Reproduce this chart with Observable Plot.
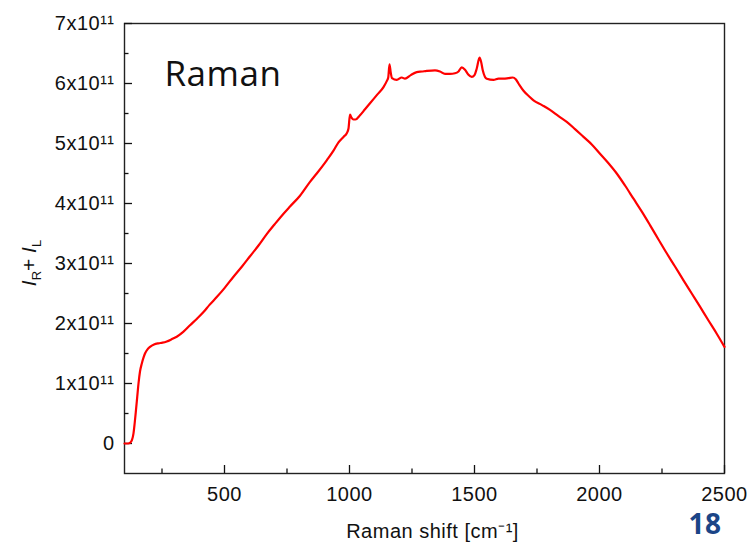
<!DOCTYPE html>
<html>
<head>
<meta charset="utf-8">
<script src="https://cdn.jsdelivr.net/npm/d3@7"></script>
<script src="https://cdn.jsdelivr.net/npm/@observablehq/plot@0.6"></script>
<style>
  html, body { margin: 0; padding: 0; background: #fff; }
  #chart svg { display: block; }
</style>
</head>
<body>
<div id="chart"></div>
<script>
// Raman shift (cm^-1)
const shift = [
  100, 115, 122, 130, 136, 141, 146, 151, 156, 162, 169, 176, 182, 192, 202, 218, 236, 252, 269, 290,
  309, 335, 362, 390, 416, 440, 469, 500, 536, 570, 602, 636, 669, 700, 736, 762, 802, 842, 869, 909,
  936, 956, 976, 989, 996, 1002, 1008, 1016, 1024, 1042, 1062, 1082, 1110, 1136, 1149, 1155, 1160, 1165, 1170, 1189,
  1209, 1222, 1245, 1269, 1290, 1309, 1342, 1362, 1382, 1402, 1422, 1436, 1449, 1462, 1475, 1489, 1500, 1509, 1520, 1527,
  1533, 1542, 1549, 1576, 1596, 1616, 1636, 1653, 1665, 1676, 1696, 1720, 1736, 1770, 1802, 1835, 1869, 1902, 1936, 1970,
  2002, 2036, 2069, 2102, 2136, 2170, 2202, 2236, 2269, 2302, 2336, 2369, 2402, 2436, 2469, 2500
];
// I_R + I_L in units of 10^11
const intensity = [
  0.00, 0.00, 0.01, 0.06, 0.17, 0.35, 0.56, 0.78, 1.00, 1.20, 1.33, 1.43, 1.50, 1.57, 1.61, 1.65, 1.67, 1.68, 1.70, 1.74,
  1.78, 1.86, 1.97, 2.08, 2.19, 2.31, 2.44, 2.59, 2.78, 2.95, 3.12, 3.30, 3.49, 3.65, 3.83, 3.95, 4.13, 4.36, 4.50, 4.72,
  4.88, 5.02, 5.11, 5.17, 5.25, 5.48, 5.43, 5.40, 5.40, 5.47, 5.57, 5.67, 5.81, 5.94, 6.04, 6.10, 6.32, 6.18, 6.09, 6.06,
  6.10, 6.08, 6.14, 6.19, 6.20, 6.21, 6.22, 6.20, 6.16, 6.16, 6.17, 6.20, 6.27, 6.23, 6.15, 6.11, 6.14, 6.25, 6.43, 6.35,
  6.22, 6.11, 6.08, 6.06, 6.08, 6.08, 6.09, 6.10, 6.07, 6.00, 5.88, 5.78, 5.72, 5.64, 5.56, 5.46, 5.36, 5.24, 5.11, 4.98,
  4.83, 4.67, 4.50, 4.30, 4.08, 3.86, 3.64, 3.40, 3.17, 2.95, 2.72, 2.50, 2.28, 2.05, 1.83, 1.61
];

const xMajorTicks = [500, 1000, 1500, 2000, 2500];
const xMinorTicks = [250, 750, 1250, 1750, 2250];
const xTickLabels = ["500", "1000", "1500", "2000", "2500"];
const yMajorTicks = [0, 1, 2, 3, 4, 5, 6, 7];
const yMinorTicks = [0.5, 1.5, 2.5, 3.5, 4.5, 5.5, 6.5];
const yTickLabels = ["0", "1x10¹¹", "2x10¹¹", "3x10¹¹", "4x10¹¹", "5x10¹¹", "6x10¹¹", "7x10¹¹"];

const titleText = "Raman";
const xTitle = "Raman shift [cm⁻¹]";
const pageNumber = "18";

const data = shift.map((x, i) => ({x, y: intensity[i]}));

const chart = Plot.plot({
  width: 750,
  height: 544,
  marginLeft: 124,
  marginRight: 26,
  marginTop: 23,
  marginBottom: 71,
  style: {fontFamily: "'Liberation Sans', Arial, sans-serif", fontSize: "20px", color: "#111", background: "#fff", letterSpacing: "0.5px"},
  x: {domain: [100, 2500], label: null},
  y: {domain: [-0.5, 7], label: null},
  marks: [
    Plot.frame({stroke: "#222", strokeWidth: 1.4}),
    Plot.axisX(xMajorTicks, {tickSize: -8, fill: "none", label: null, strokeWidth: 1.3}),
    Plot.axisX(xMinorTicks, {tickSize: -4.5, fill: "none", label: null, strokeWidth: 1.3}),
    Plot.axisX(xMajorTicks, {tickSize: 0, tickPadding: 13, label: null, fontSize: 20,
      tickFormat: (d) => xTickLabels[xMajorTicks.indexOf(d)]}),
    Plot.axisY(yMajorTicks, {tickSize: -8, fill: "none", label: null, strokeWidth: 1.3}),
    Plot.axisY(yMinorTicks, {tickSize: -4.5, fill: "none", label: null, strokeWidth: 1.3}),
    Plot.axisY(yMajorTicks, {tickSize: 0, tickPadding: 10, label: null, fontSize: 20,
      tickFormat: (d) => yTickLabels[yMajorTicks.indexOf(d)]}),
    Plot.line(data, {x: "x", y: "y", stroke: "#ff0000", strokeWidth: 2.2, curve: "monotone-x"}),
    Plot.text([titleText], {frameAnchor: "top-left", dx: 40, dy: 38, text: (d) => d, lineAnchor: "top",
      textAnchor: "start", fontSize: 35, fontFamily: "'Open Sans', sans-serif", fill: "#111"}),
    Plot.text([xTitle], {frameAnchor: "bottom", dx: 8, dy: 50, text: (d) => d, lineAnchor: "top",
      textAnchor: "middle", fontSize: 20, fill: "#111"}),
    Plot.text([pageNumber], {frameAnchor: "bottom-right", dx: -3, dy: 41, text: (d) => d, lineAnchor: "top",
      textAnchor: "end", fontSize: 28, fontWeight: "bold", fontFamily: "'Open Sans', sans-serif", fill: "#1b4587"})
  ]
});

// y-axis title with italic I and subscripts
const svg = d3.select(chart);
const yl = svg.append("text")
  .attr("transform", "translate(36,263) rotate(-90)")
  .attr("text-anchor", "middle")
  .attr("fill", "#111")
  .style("font-family", "'Liberation Sans', Arial, sans-serif")
  .style("font-size", "21px")
  .style("letter-spacing", "0px");
yl.append("tspan").attr("font-style", "italic").text("I");
yl.append("tspan").attr("font-size", "13px").attr("dy", "5").text("R");
yl.append("tspan").attr("dy", "-5").text("+ ");
yl.append("tspan").attr("font-style", "italic").text("I");
yl.append("tspan").attr("font-size", "13px").attr("dy", "5").text("L");

document.getElementById("chart").appendChild(chart);
</script>
</body>
</html>
